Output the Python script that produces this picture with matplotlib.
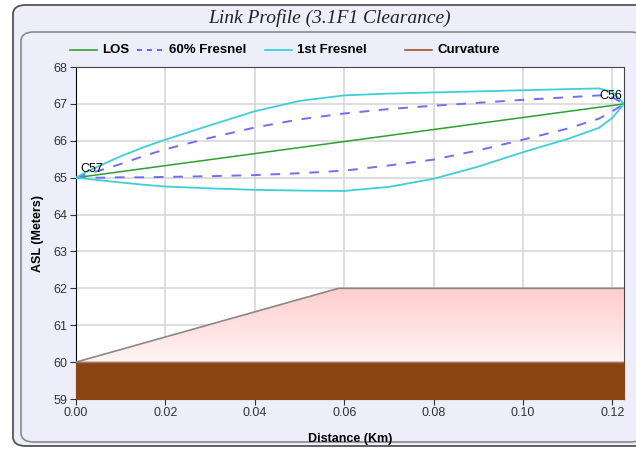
import matplotlib.pyplot as plt
import numpy as np
from matplotlib.patches import FancyBboxPatch
from matplotlib.lines import Line2D
from matplotlib.colors import LinearSegmentedColormap

plt.rcParams['font.family'] = ['Liberation Sans', 'DejaVu Sans']

# path samples (km)
dist = [0, 0.003, 0.006, 0.01, 0.015, 0.02, 0.03, 0.04, 0.05, 0.06, 0.07, 0.08, 0.09, 0.10, 0.11, 0.117, 0.12, 0.1226]
fresnel1_upper = [65.0, 65.20, 65.36, 65.58, 65.82, 66.03, 66.42, 66.80, 67.08, 67.23, 67.28, 67.31, 67.34, 67.37, 67.40, 67.42, 67.33, 67.0]
fresnel60_upper = [65.0, 65.12, 65.22, 65.37, 65.58, 65.77, 66.08, 66.36, 66.58, 66.74, 66.86, 66.95, 67.03, 67.11, 67.18, 67.23, 67.18, 67.0]
fresnel60_lower = [65.0, 65.0, 65.0, 65.01, 65.01, 65.02, 65.04, 65.07, 65.12, 65.19, 65.33, 65.49, 65.74, 66.03, 66.33, 66.60, 66.80, 67.0]
fresnel1_lower = [65.0, 64.96, 64.92, 64.87, 64.81, 64.76, 64.71, 64.67, 64.65, 64.64, 64.75, 64.97, 65.30, 65.69, 66.05, 66.35, 66.62, 67.0]

los_dist = [0, 0.1226]
los_height = [65.0, 67.0]

terrain_dist = [0, 0.0587, 0.1226]
terrain_height = [60.0, 62.0, 62.0]

curvature_dist = [0, 0.1226]
curvature_height = [60.0, 60.0]
ground_base = 59.0

sites = ["C57", "C56"]

bg = "#EEEEFB"
fig = plt.figure(figsize=(6.36, 4.5), dpi=100)
fig.patch.set_facecolor("white")

# outer frame + inner panel
W, H = 636, 450
outer = FancyBboxPatch((13 / W, 4 / H), 700 / W, 441 / H,
                       boxstyle="round,pad=0,rounding_size=0.02",
                       transform=fig.transFigure, facecolor=bg,
                       edgecolor="#555555", linewidth=1.3, zorder=-3)
inner = FancyBboxPatch((21 / W, 8 / H), 622 / W, 410 / H,
                       boxstyle="round,pad=0,rounding_size=0.02",
                       transform=fig.transFigure, facecolor=bg,
                       edgecolor="#8a8a8a", linewidth=1.2, zorder=-2)
fig.patches.extend([outer, inner])

fig.text(330 / W, 1 - 18 / H, "Link Profile (3.1F1 Clearance)", ha="center", va="center",
         fontsize=14, style="italic", family="Liberation Serif", color="#222222")

ax = fig.add_axes([76 / W, 1 - 399 / H, (624 - 76) / W, (399 - 67) / H])
ax.set_facecolor("white")
ax.set_xlim(0, 0.1226)
ax.set_ylim(59, 68)
ax.set_xticks(np.arange(0, 0.121, 0.02))
ax.set_yticks(range(59, 69))
ax.grid(True, color="#d4d4d4", linewidth=1.1)
ax.set_axisbelow(True)
ax.xaxis.set_major_formatter(plt.FormatStrFormatter("%.2f"))
ax.tick_params(direction="out", length=4, labelsize=9, colors="#333333", pad=2)
for s in ["left", "bottom"]:
    ax.spines[s].set_color("black")
for s in ["top", "right"]:
    ax.spines[s].set_color("#444444")

# terrain with vertical gradient
terr = ax.fill_between(terrain_dist, curvature_height[0], terrain_height,
                       facecolor="none", edgecolor="none", zorder=2)
grad = np.linspace(0, 1, 256).reshape(-1, 1)
img = ax.imshow(grad, extent=[0, 0.1226, 60, 62], origin="lower",
                cmap=LinearSegmentedColormap.from_list("terr", ["#FFF4F4", "#FFCDCD"]),
                aspect="auto", zorder=2)
img.set_clip_path(terr.get_paths()[0], transform=ax.transData)
ax.plot(terrain_dist, terrain_height, color="#888888", linewidth=1.2, zorder=3)

# earth curvature / ground
ax.fill_between(curvature_dist, ground_base, curvature_height,
                color="#8B4513", zorder=3)
ax.plot(curvature_dist, curvature_height, color="#A0786A", linewidth=1, zorder=3)

ax.plot(los_dist, los_height, color="#2EA02E", linewidth=1.1, zorder=4)
ax.plot(dist, fresnel60_upper, color="#6F6FF5", linestyle=(0, (5, 5)), linewidth=1.4, zorder=4)
ax.plot(dist, fresnel60_lower, color="#6F6FF5", linestyle=(0, (5, 5)), linewidth=1.4, zorder=4)
ax.plot(dist, fresnel1_upper, color="#3ECFD6", linewidth=1.3, zorder=4)
ax.plot(dist, fresnel1_lower, color="#3ECFD6", linewidth=1.3, zorder=4)

ax.text(los_dist[0] + 0.0009, los_height[0] + 0.07, sites[0], fontsize=9, va="bottom", ha="left", zorder=5)
ax.text(los_dist[1] - 0.0005, los_height[1] + 0.05, sites[1], fontsize=9, va="bottom", ha="right", zorder=5)

ax.set_xlabel("Distance (Km)", fontsize=9, fontweight="bold", labelpad=10)
ax.set_ylabel("ASL (Meters)", fontsize=9, fontweight="bold", labelpad=7)

legend_colors = ["#2EA02E", "#4F4FF5", "#22D0D8", "#A0522D"]
legend_styles = ["-", (0, (3, 3)), "-", "-"]
names = ["LOS", "60% Fresnel", "1st Fresnel", "Curvature"]
leg_x = [70, 137, 265, 405]
y = 1 - 50 / H
for c, ls, name, x0 in zip(legend_colors, legend_styles, names, leg_x):
    fig.add_artist(Line2D([x0 / W, (x0 + 27) / W], [y, y], transform=fig.transFigure,
                          color=c, linestyle=ls, linewidth=1.2))
    fig.text((x0 + 32) / W, y, name, fontsize=9.5, fontweight="bold", va="center", ha="left")

fig.savefig("out.png", dpi=100, facecolor=fig.get_facecolor())
